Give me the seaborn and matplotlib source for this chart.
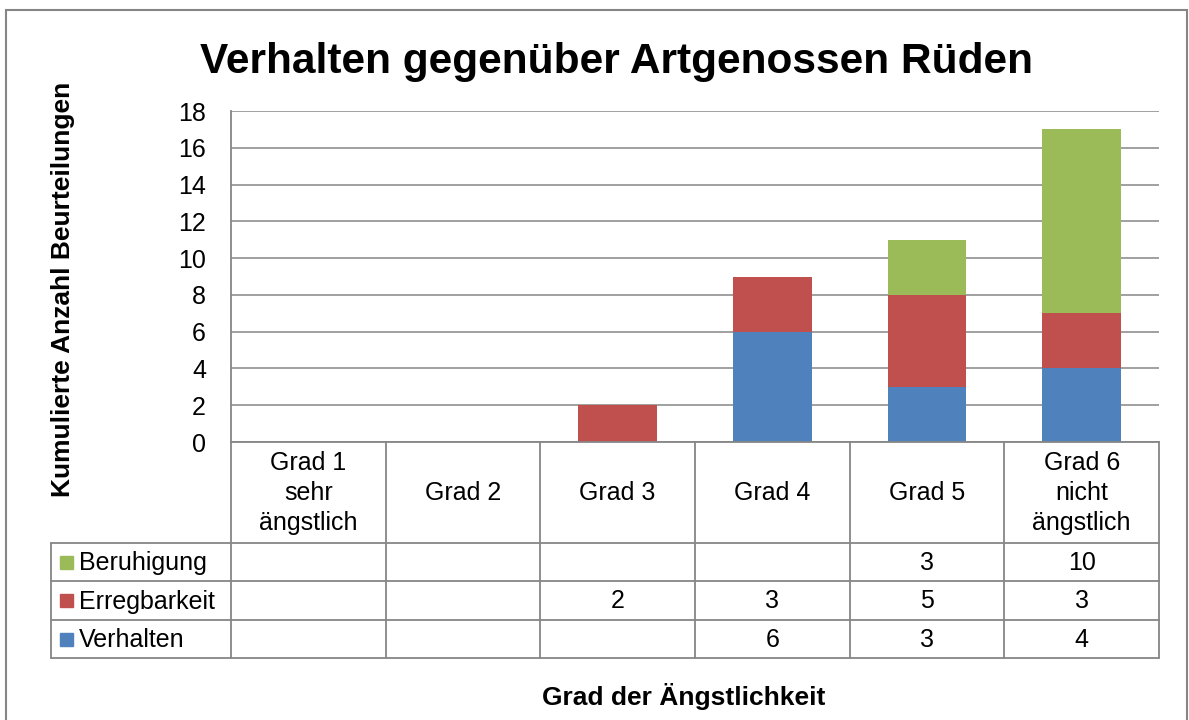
import numpy as np
import pandas as pd
import matplotlib
matplotlib.use("Agg")
import matplotlib.pyplot as plt
from matplotlib.patches import Rectangle
import seaborn as sns

# data (blank cells = nan)
grad = ["Grad 1\nsehr\nängstlich", "Grad 2", "Grad 3", "Grad 4", "Grad 5", "Grad 6\nnicht\nängstlich"]
verhalten = [np.nan, np.nan, np.nan, 6, 3, 4]
erregbarkeit = [np.nan, np.nan, 2, 3, 5, 3]
beruhigung = [np.nan, np.nan, np.nan, np.nan, 3, 10]
y_ticks = [0, 2, 4, 6, 8, 10, 12, 14, 16, 18]

blue = "#4F81BD"
red = "#C0504D"
green = "#9BBB59"
grey = "#868686"

df = pd.DataFrame({"Grad": grad, "Verhalten": verhalten,
                   "Erregbarkeit": erregbarkeit, "Beruhigung": beruhigung})
filled = df[["Verhalten", "Erregbarkeit", "Beruhigung"]].fillna(0)
df["low"] = filled["Verhalten"]
df["mid"] = df["low"] + filled["Erregbarkeit"]
df["top"] = df["mid"] + filled["Beruhigung"]

sns.set_style("white")
plt.rcParams["font.family"] = ["Liberation Sans", "DejaVu Sans"]
plt.rcParams["text.color"] = "black"

W, H = 1189, 720
fig = plt.figure(figsize=(W / 100, H / 100), dpi=100)

def box(l, t, r, b):
    return [l / W, 1 - b / H, (r - l) / W, (b - t) / H]

# main chart area, stacked bars drawn as cumulative totals
ax = fig.add_axes(box(231, 111, 1159, 442))
for col, c in [("top", green), ("mid", red), ("low", blue)]:
    sns.barplot(data=df, x="Grad", y=col, color=c, width=0.51, saturation=1,
                linewidth=0, ax=ax, zorder=3)
ax.set_xlim(-0.5, 5.5)
ax.set_ylim(0, 18)
ax.set_yticks(y_ticks)
ax.set_xticks([])
ax.set_xlabel("")
ax.set_ylabel("")
ax.yaxis.grid(True, color=grey, linewidth=1.1, zorder=0)
ax.set_axisbelow(True)
ax.tick_params(axis="y", length=0, pad=18, labelsize=18, labelcolor="black")
for s in ["top", "right"]:
    ax.spines[s].set_visible(False)
for s in ["left", "bottom"]:
    ax.spines[s].set_color(grey)
    ax.spines[s].set_linewidth(1.3)
    ax.spines[s].set_zorder(4)

# data table below the chart
col_w = (1159 - 231) / 6
xmin = -0.5 - (231 - 51) / col_w
tax = fig.add_axes(box(51, 442, 1159, 658))
tax.set_xlim(xmin, 5.5)
tax.set_ylim(216, 0)
tax.axis("off")
row_y = [101, 139, 178, 216]
for y in row_y:
    tax.plot([xmin, 5.5], [y, y], color=grey, lw=1.3, clip_on=False)
for x in np.arange(-0.5, 6, 1):
    tax.plot([x, x], [0, 216], color=grey, lw=1.3, clip_on=False)
tax.plot([xmin, xmin], [101, 216], color=grey, lw=1.3, clip_on=False)

for i, g in enumerate(grad):
    tax.text(i, 51, g, ha="center", va="center", fontsize=18,
             multialignment="center", linespacing=1.3)

rows = [("Beruhigung", beruhigung, green),
        ("Erregbarkeit", erregbarkeit, red),
        ("Verhalten", verhalten, blue)]
for k, (name, vals, c) in enumerate(rows):
    yc = (row_y[k] + row_y[k + 1]) / 2
    tax.add_patch(Rectangle((xmin + 9 / col_w, yc - 6.5), 13 / col_w, 13,
                            color=c, clip_on=False))
    tax.text(xmin + 28 / col_w, yc + 1, name, ha="left", va="center", fontsize=18)
    for i, v in enumerate(vals):
        if not np.isnan(v):
            tax.text(i, yc + 1, f"{v:g}", ha="center", va="center", fontsize=18)

# titles
fig.text(617 / W, 1 - 62 / H, "Verhalten gegenüber Artgenossen Rüden",
         ha="center", va="center", fontsize=30.5, fontweight="bold")
fig.text(63 / W, 1 - 289 / H, "Kumulierte Anzahl Beurteilungen", rotation=90,
         ha="center", va="center", fontsize=19, fontweight="bold")
fig.text(684 / W, 1 - 697 / H, "Grad der Ängstlichkeit",
         ha="center", va="center", fontsize=19, fontweight="bold")

# outer chart border
fig.patches.append(Rectangle((5.5 / W, -0.05), (1187 - 5.5) / W, 1.05 - 9.5 / H,
                             transform=fig.transFigure, fill=False,
                             edgecolor=grey, linewidth=1.5))

fig.savefig("out.png", dpi=100)
